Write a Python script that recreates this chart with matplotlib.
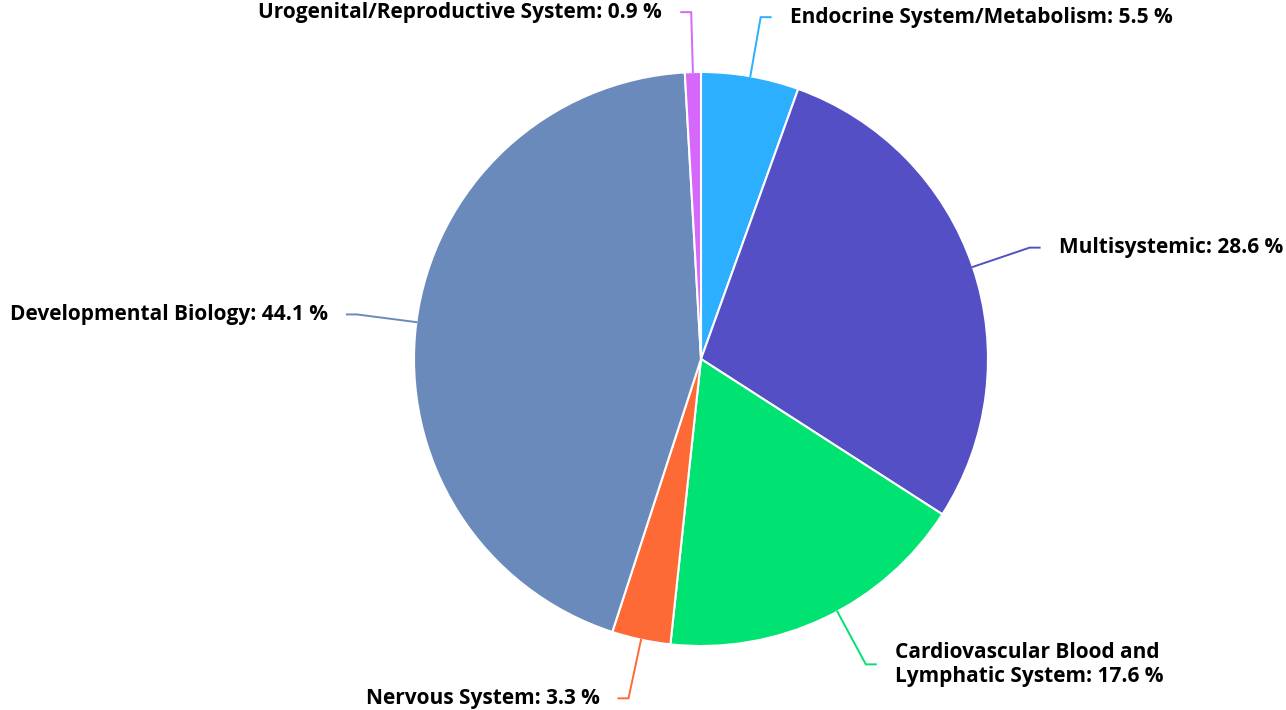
import numpy as np
import matplotlib.pyplot as plt

# slice data, clockwise from 12 o'clock
categories = [
    "Endocrine System/Metabolism",
    "Multisystemic",
    "Cardiovascular Blood and\nLymphatic System",
    "Nervous System",
    "Developmental Biology",
    "Urogenital/Reproductive System",
]
shares = [5.5, 28.6, 17.6, 3.3, 44.1, 0.9]
colors = ["#2caffe", "#544fc5", "#00e272", "#fe6a35", "#6b8abc", "#d568fb"]

# connector anchor tweak (degrees) where the original label was nudged
anchor_shift = {"Cardiovascular Blood and\nLymphatic System": 2.8}

plt.rcParams['font.family'] = ['Open Sans', 'DejaVu Sans']

W, H = 1286, 710
fig = plt.figure(figsize=(W / 100, H / 100), dpi=100)
# pie centre ~(701, 359) px, radius ~287 px
cx, cy, r = 701, 359, 287
ax = fig.add_axes([(cx - r) / W, (H - cy - r) / H, 2 * r / W, 2 * r / H])

wedges, _ = ax.pie(shares, colors=colors, startangle=90, counterclock=False,
                   radius=1, wedgeprops=dict(edgecolor='white', linewidth=1.5))
# pie() resets the limits, so set them afterwards
ax.set_xlim(-1, 1)
ax.set_ylim(-1, 1)
ax.axis('off')

px = 1.0 / r
seg1 = 60 * px   # radial part of connector
seg2 = 10 * px   # horizontal part
gap = 19 * px

for w, name, val, col in zip(wedges, categories, shares, colors):
    mid = (w.theta1 + w.theta2) / 2 + anchor_shift.get(name, 0.0)
    ang = np.deg2rad(mid)
    x0, y0 = np.cos(ang), np.sin(ang)
    x1, y1 = x0 * (1 + seg1), y0 * (1 + seg1)
    side = 1 if x0 >= 0 else -1
    x2 = x1 + side * seg2
    ax.plot([x0, x1, x2], [y0, y1, y1], color=col, lw=1.4, clip_on=False,
            solid_joinstyle='miter')
    ax.text(x2 + side * gap, y1, f"{name}: {val} %", ha='left' if side > 0 else 'right',
            va='center', fontsize=15, fontweight='bold', color='black',
            linespacing=1.2)

fig.savefig("out.png", dpi=100)
